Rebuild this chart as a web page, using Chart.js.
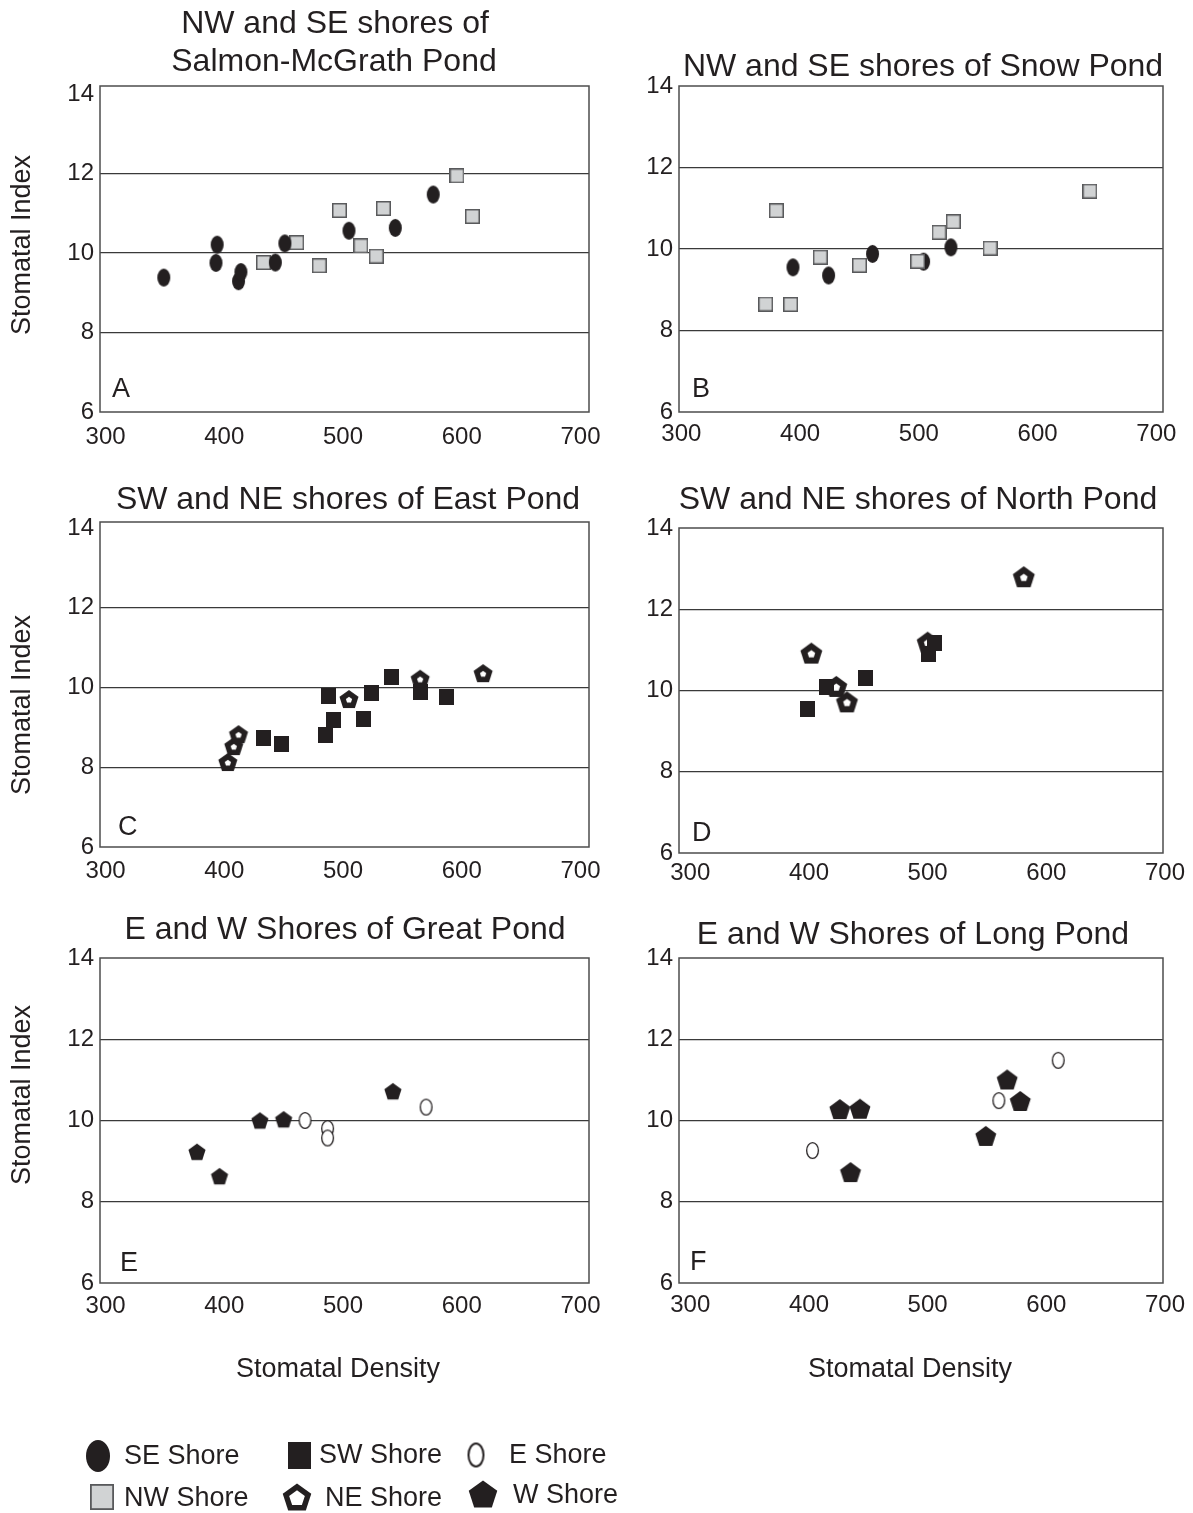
<!DOCTYPE html>
<html><head><meta charset="utf-8">
<script src="https://cdn.jsdelivr.net/npm/chart.js@4.4.1/dist/chart.umd.min.js"></script>
<style>
html,body{margin:0;padding:0;background:#fff;}
#wrap{position:relative;width:1193px;height:1513px;overflow:hidden;background:#fff;}
#wrap canvas{position:absolute;}
</style></head><body><div id="wrap"></div>
<script>
// ---------- tick labels ----------
const xTickValues = [300, 400, 500, 600, 700];
const yTickValues = [6, 8, 10, 12, 14];
const yGridValues = [8, 10, 12];

// ---------- A: Salmon-McGrath Pond ----------
const aSE_density = [349, 394, 393, 412, 414, 443, 451, 505, 544, 576];
const aSE_index   = [9.38, 10.21, 9.75, 9.29, 9.52, 9.76, 10.24, 10.56, 10.63, 11.47];
const aNW_density = [433, 461, 480, 497, 515, 528, 534, 596, 609];
const aNW_index   = [9.76, 10.26, 9.68, 11.07, 10.18, 9.92, 11.12, 11.94, 10.92];

// ---------- B: Snow Pond ----------
const bSE_density = [394, 424, 461, 504, 527];
const bSE_index   = [9.55, 9.35, 9.88, 9.69, 10.04];
const bNW_density = [371, 380, 392, 417, 450, 499, 517, 529, 560, 644];
const bNW_index   = [8.65, 10.94, 8.64, 9.80, 9.60, 9.70, 10.41, 10.67, 10.02, 11.42];

// ---------- C: East Pond ----------
const cSW_density = [433, 448, 485, 488, 492, 517, 524, 541, 565, 587];
const cSW_index   = [8.73, 8.58, 8.80, 9.79, 9.19, 9.21, 9.87, 10.26, 9.89, 9.75];
const cNE_density = [403, 408, 412, 505, 565, 618];
const cNE_index   = [8.13, 8.53, 8.83, 9.71, 10.22, 10.36];

// ---------- D: North Pond ----------
const dSW_density = [399, 415, 448, 501, 506];
const dSW_index   = [9.54, 10.09, 10.31, 10.90, 11.17];
const dNE_density = [402, 423, 432, 500, 581];
const dNE_index   = [10.92, 10.10, 9.72, 11.19, 12.80];

// ---------- E: Great Pond ----------
const eW_density = [377, 396, 430, 450, 542];
const eW_index   = [9.23, 8.63, 10.00, 10.03, 10.72];
const eE_density = [468, 487, 487, 570];
const eE_index   = [10.00, 9.80, 9.57, 10.33];

// ---------- F: Long Pond ----------
const fW_density = [426, 443, 435, 549, 567, 578];
const fW_index   = [10.28, 10.29, 8.73, 9.62, 11.01, 10.48];
const fE_density = [403, 560, 610];
const fE_index   = [9.26, 10.49, 11.48];

// ---------- helpers ----------
const wrap = document.getElementById('wrap');
const INK = '#231f20';
const FONT = '"Liberation Sans", Arial, Helvetica, sans-serif';

function mkCanvas(w, h) { const c = document.createElement('canvas'); c.width = w; c.height = h; return c; }
function ellipseMarker(w, h, filled, lw) {
  const c = mkCanvas(w + 4, h + 4), g = c.getContext('2d');
  const rx = filled ? w / 2 : w / 2 - lw / 2, ry = filled ? h / 2 : h / 2 - lw / 2;
  g.beginPath(); g.ellipse(c.width / 2, c.height / 2, rx, ry, 0, 0, Math.PI * 2);
  if (filled) { g.fillStyle = INK; g.fill(); }
  else { g.fillStyle = '#fff'; g.fill(); g.lineWidth = lw; g.strokeStyle = INK; g.stroke(); }
  return c;
}
function squareMarker(w, h, fill, stroke, lw) {
  const c = mkCanvas(w, h), g = c.getContext('2d');
  g.fillStyle = fill; g.fillRect(0, 0, w, h);
  if (stroke) { g.lineWidth = lw; g.strokeStyle = stroke; g.strokeRect(lw / 2, lw / 2, w - lw, h - lw); }
  return c;
}
function pentPath(g, cx, cy, r) {
  g.beginPath();
  for (let k = 0; k < 5; k++) {
    const a = -Math.PI / 2 + k * 2 * Math.PI / 5;
    const px = cx + r * Math.cos(a), py = cy + r * Math.sin(a);
    if (k) g.lineTo(px, py); else g.moveTo(px, py);
  }
  g.closePath();
}
function pentagonMarker(R, hole) {
  const s = Math.ceil(2 * R + 2), c = mkCanvas(s, s), g = c.getContext('2d');
  const cx = s / 2, cy = s / 2 + R * 0.095;
  g.fillStyle = INK; pentPath(g, cx, cy, R); g.fill();
  if (hole) { g.fillStyle = '#fff'; pentPath(g, cx, cy, R * hole); g.fill(); }
  return c;
}
const GRAY_FILL = '#d1d3d4', GRAY_LINE = '#58595b';

function pts(xs, ys) { return xs.map((x, i) => ({ x: x, y: ys[i] })); }

function textPlugin(items, ox, oy) {
  return {
    id: 'panelText',
    afterDraw(chart) {
      const g = chart.ctx;
      g.save(); g.fillStyle = INK;
      for (const it of items) {
        g.font = it.size + 'px ' + FONT;
        g.textAlign = it.align || 'center';
        g.textBaseline = 'middle';
        g.save(); g.translate(it.x - ox, it.y - oy);
        if (it.rot) g.rotate(it.rot);
        g.fillText(it.text, 0, 0);
        g.restore();
      }
      g.restore();
    }
  };
}
const framePlugin = {
  id: 'frame',
  afterDatasetsDraw(chart) {
    const a = chart.chartArea, g = chart.ctx;
    g.save(); g.strokeStyle = '#4d4d4d'; g.lineWidth = 1.5;
    g.strokeRect(a.left, a.top, a.right - a.left, a.bottom - a.top);
    g.restore();
  }
};

function zeroPad(s) { s.paddingLeft = 0; s.paddingRight = 0; s.paddingTop = 0; s.paddingBottom = 0; }

function makePanel(p) {
  const cv = document.createElement('canvas');
  cv.width = p.canvas.w; cv.height = p.canvas.h;
  cv.style.left = p.canvas.x + 'px'; cv.style.top = p.canvas.y + 'px';
  cv.style.width = p.canvas.w + 'px'; cv.style.height = p.canvas.h + 'px';
  wrap.appendChild(cv);
  const padTop = p.box.top - p.canvas.y;
  const padRight = p.canvas.x + p.canvas.w - p.box.right;
  const yW = p.box.left - p.canvas.x;
  const xH = p.canvas.y + p.canvas.h - p.box.bottom;
  const items = [];
  p.title.forEach(t => items.push({ text: t[0], x: t[1], y: t[2], size: 32 }));
  items.push({ text: p.letter[0], x: p.letter[1], y: p.letter[2], size: 27, align: 'left' });
  if (p.yTitle) items.push({ text: 'Stomatal Index', x: p.yTitle[0], y: p.yTitle[1], size: 27, rot: -Math.PI / 2 });
  if (p.xTitle) items.push({ text: 'Stomatal Density', x: p.xTitle[0], y: p.xTitle[1], size: 27 });

  return new Chart(cv, {
    type: 'scatter',
    data: {
      datasets: p.datasets.map(d => ({
        label: d.label, data: pts(d.x, d.y), pointStyle: d.marker,
        pointRadius: 6, showLine: false
      }))
    },
    options: {
      responsive: false, animation: false, events: [], devicePixelRatio: 1,
      layout: { padding: { top: padTop, right: padRight, left: 0, bottom: 0 } },
      plugins: { legend: { display: false }, tooltip: { enabled: false }, title: { display: false } },
      scales: {
        x: {
          type: 'linear', min: p.xMin, max: p.xMax,
          afterBuildTicks: s => { s.ticks = xTickValues.map(v => ({ value: v })); },
          afterFit: s => { s.height = xH; zeroPad(s); },
          grid: { display: false, drawTicks: false },
          border: { display: false },
          ticks: { font: { family: FONT, size: 24 }, color: INK, padding: p.tickPad, maxRotation: 0, autoSkip: false }
        },
        y: {
          type: 'linear', min: 6, max: p.yMax,
          afterBuildTicks: s => { s.ticks = yTickValues.map(v => ({ value: v })); },
          afterFit: s => { s.width = yW; zeroPad(s); },
          grid: {
            drawTicks: false, lineWidth: 1.3,
            color: c => (c.tick && yGridValues.includes(c.tick.value)) ? '#3a3a3a' : 'rgba(0,0,0,0)'
          },
          border: { display: false },
          ticks: { font: { family: FONT, size: 24 }, color: INK, padding: 6, autoSkip: false }
        }
      }
    },
    plugins: [framePlugin, textPlugin(items, p.canvas.x, p.canvas.y)]
  });
}

// markers
const mSE_A = ellipseMarker(13, 18, true, 0);
const mNW_A = squareMarker(15, 15, GRAY_FILL, GRAY_LINE, 1.5);
const mSW_C = squareMarker(15, 16, INK, null, 0);
const mNE_C = pentagonMarker(10, 0.33);
const mNE_D = pentagonMarker(11.5, 0.35);
const mW_E  = pentagonMarker(9, 0);
const mW_F  = pentagonMarker(11, 0);
const mE    = ellipseMarker(13, 17, false, 1.3);

const panels = [
  { canvas: { x: 0, y: 0, w: 600, h: 465 }, box: { left: 100, right: 589, top: 86, bottom: 412 },
    xMin: 295.3, xMax: 707.2, yMax: 14.2, tickPad: 11,
    title: [['NW and SE shores of', 335, 24], ['Salmon-McGrath Pond', 334, 62]],
    letter: ['A', 112, 390], yTitle: [23, 245],
    datasets: [
      { label: 'SE Shore', x: aSE_density, y: aSE_index, marker: mSE_A },
      { label: 'NW Shore', x: aNW_density, y: aNW_index, marker: mNW_A }] },
  { canvas: { x: 600, y: 0, w: 593, h: 465 }, box: { left: 679, right: 1163, top: 86, bottom: 412 },
    xMin: 298, xMax: 705.6, yMax: 14, tickPad: 8,
    title: [['NW and SE shores of Snow Pond', 923, 67]],
    letter: ['B', 692, 390],
    datasets: [
      { label: 'NW Shore', x: bNW_density, y: bNW_index, marker: mNW_A },
      { label: 'SE Shore', x: bSE_density, y: bSE_index, marker: mSE_A }] },
  { canvas: { x: 0, y: 465, w: 600, h: 430 }, box: { left: 100, right: 589, top: 522, bottom: 847 },
    xMin: 295.3, xMax: 707.2, yMax: 14.15, tickPad: 10,
    title: [['SW and NE shores of East Pond', 348, 500]],
    letter: ['C', 118, 828], yTitle: [23, 705],
    datasets: [
      { label: 'NE Shore', x: cNE_density, y: cNE_index, marker: mNE_C },
      { label: 'SW Shore', x: cSW_density, y: cSW_index, marker: mSW_C }] },
  { canvas: { x: 600, y: 465, w: 593, h: 430 }, box: { left: 679, right: 1163, top: 528, bottom: 853 },
    xMin: 290.5, xMax: 698.3, yMax: 14, tickPad: 6,
    title: [['SW and NE shores of North Pond', 918, 500]],
    letter: ['D', 692, 834],
    datasets: [
      { label: 'SW Shore', x: dSW_density, y: dSW_index, marker: mSW_C },
      { label: 'NE Shore', x: dNE_density, y: dNE_index, marker: mNE_D }] },
  { canvas: { x: 0, y: 895, w: 600, h: 510 }, box: { left: 100, right: 589, top: 958, bottom: 1283 },
    xMin: 295.3, xMax: 707.2, yMax: 14, tickPad: 9,
    title: [['E and W Shores of Great Pond', 345, 930]],
    letter: ['E', 120, 1264], yTitle: [23, 1095], xTitle: [338, 1370],
    datasets: [
      { label: 'W Shore', x: eW_density, y: eW_index, marker: mW_E },
      { label: 'E Shore', x: eE_density, y: eE_index, marker: mE }] },
  { canvas: { x: 600, y: 895, w: 593, h: 510 }, box: { left: 679, right: 1163, top: 958, bottom: 1283 },
    xMin: 290.5, xMax: 698.3, yMax: 14, tickPad: 8,
    title: [['E and W Shores of Long Pond', 913, 935]],
    letter: ['F', 690, 1263], xTitle: [910, 1370],
    datasets: [
      { label: 'W Shore', x: fW_density, y: fW_index, marker: mW_F },
      { label: 'E Shore', x: fE_density, y: fE_index, marker: mE }] }
];
panels.forEach(makePanel);

// ---------- legend ----------
const legendLabels = ['SE Shore', 'NW Shore', 'SW Shore', 'NE Shore', 'E Shore', 'W Shore'];
const legendMarkers = [
  ellipseMarker(24, 32, true, 0),
  squareMarker(24, 26, GRAY_FILL, GRAY_LINE, 1.8),
  squareMarker(23, 27, INK, null, 0),
  pentagonMarker(15, 0.55),
  ellipseMarker(17, 25, false, 2),
  pentagonMarker(15, 0)
];
const legendSlots = [
  { mx: 98, my: 1456, tx: 124, ty: 1457 },
  { mx: 102, my: 1497, tx: 124, ty: 1499 },
  { mx: 299, my: 1455, tx: 319, ty: 1456 },
  { mx: 297, my: 1497, tx: 325, ty: 1499 },
  { mx: 476, my: 1455, tx: 509, ty: 1456 },
  { mx: 483, my: 1494, tx: 513, ty: 1496 }
];
(function () {
  const L = { x: 0, y: 1405, w: 700, h: 108 };
  const cv = document.createElement('canvas');
  cv.width = L.w; cv.height = L.h;
  cv.style.left = L.x + 'px'; cv.style.top = L.y + 'px';
  cv.style.width = L.w + 'px'; cv.style.height = L.h + 'px';
  wrap.appendChild(cv);
  new Chart(cv, {
    type: 'scatter',
    data: { datasets: legendLabels.map((lab, i) => ({ label: lab, data: [], pointStyle: legendMarkers[i] })) },
    options: {
      responsive: false, animation: false, events: [], devicePixelRatio: 1,
      plugins: { legend: { display: false }, tooltip: { enabled: false } },
      scales: { x: { display: false }, y: { display: false } }
    },
    plugins: [{
      id: 'gridLegend',
      afterDraw(chart) {
        const g = chart.ctx;
        g.save();
        chart.data.datasets.forEach((ds, i) => {
          const s = legendSlots[i], m = ds.pointStyle;
          g.drawImage(m, s.mx - L.x - m.width / 2, s.my - L.y - m.height / 2);
          g.fillStyle = INK; g.font = '27px ' + FONT;
          g.textAlign = 'left'; g.textBaseline = 'middle';
          g.fillText(ds.label, s.tx - L.x, s.ty - L.y);
        });
        g.restore();
      }
    }]
  });
})();
</script>
</body></html>
